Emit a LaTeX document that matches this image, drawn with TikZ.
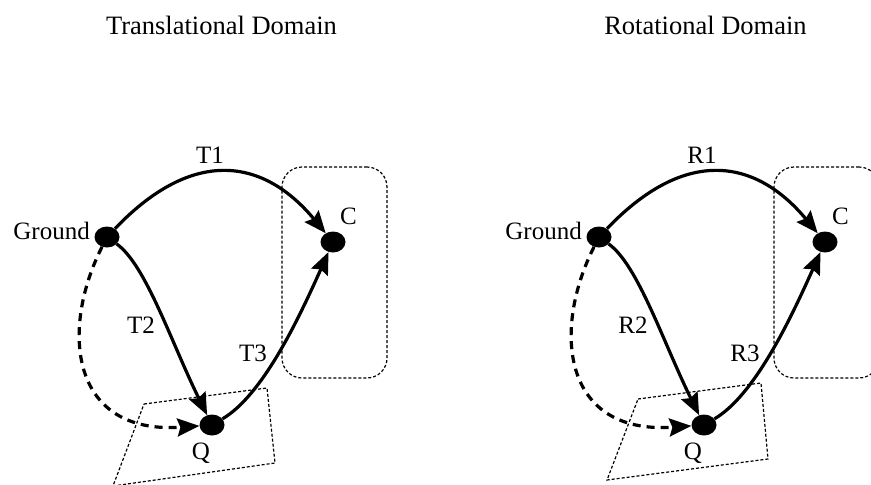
\documentclass[tikz,border=0pt]{standalone}
\usepackage{fontspec}
\setmainfont{Liberation Serif}
\usetikzlibrary{shapes.geometric, arrows.meta}
\tikzstyle{state_dot} = [ellipse, fill=black, minimum width=25pt, minimum height=21pt, inner sep=0pt]
\tikzstyle{motion_arrow} = [line width=3.2pt, -{Stealth[length=22pt, width=18pt, inset=3pt]}]
\tikzstyle{guess_arrow} = [motion_arrow, dash pattern=on 8pt off 6pt]
\tikzstyle{zone_box} = [draw, line width=1.2pt, dash pattern=on 3pt off 2pt]
\tikzstyle{title} = [font=\fontsize{26.5}{30}\selectfont, anchor=base, inner sep=0pt]
\tikzstyle{label_text} = [font=\fontsize{25}{28}\selectfont, anchor=base, inner sep=0pt]

\begin{document}
\begin{tikzpicture}[x=1pt, y=-1pt]
\useasboundingbox (0,0) rectangle (871,485);

% Titles
\node[title] (ttitle) at (221.5,34) {Translational Domain};
\node[title] (rtitle) at (705.5,34) {Rotational Domain};

% Translational side: zones around C and Q
\node[zone_box, rounded corners=20pt, minimum width=105pt, minimum height=211pt] (tczone) at (334.5,272.5) {};
\draw[zone_box] (144,404) -- (267,388) -- (275,463) -- (113,486) -- cycle;

% states
\node[state_dot] (tg) at (107,237) {};
\node[state_dot] (tc) at (333,242) {};
\node[state_dot] (tq) at (212,425) {};

% moves between states
\draw[motion_arrow] (tg) .. controls (195,145) and (265,160) .. (tc);
\draw[motion_arrow] (tg) .. controls (146,265) and (171,342) .. (tq);
\draw[motion_arrow] (tq) .. controls (263,395) and (299,318) .. (tc);
\draw[guess_arrow] (tg) .. controls (60,330) and (70,435) .. (tq);

% labels
\node[label_text, anchor=base east] (tglbl) at (90,239) {Ground};
\node[label_text, anchor=base west] (tclbl) at (340,224) {C};
\node[label_text] (tqlbl) at (201,459) {Q};
\node[label_text] (t1lbl) at (210,163) {T1};
\node[label_text] (t2lbl) at (141,333) {T2};
\node[label_text] (t3lbl) at (253,361) {T3};

% Rotational side, same layout shifted right
\begin{scope}[xshift=492pt]
\node[zone_box, rounded corners=20pt, minimum width=105pt, minimum height=211pt] (rczone) at (334.5,272.5) {};
\draw[zone_box] (146,399) -- (269,383) -- (276,459) -- (115,480) -- cycle;

\node[state_dot] (rg) at (107,237) {};
\node[state_dot] (rc) at (333,242) {};
\node[state_dot] (rq) at (212,425) {};

\draw[motion_arrow] (rg) .. controls (195,145) and (265,160) .. (rc);
\draw[motion_arrow] (rg) .. controls (146,265) and (171,342) .. (rq);
\draw[motion_arrow] (rq) .. controls (263,395) and (299,318) .. (rc);
\draw[guess_arrow] (rg) .. controls (60,330) and (70,435) .. (rq);

\node[label_text, anchor=base east] (rglbl) at (90,239) {Ground};
\node[label_text, anchor=base west] (rclbl) at (340,224) {C};
\node[label_text] (rqlbl) at (201,459) {Q};
\node[label_text] (r1lbl) at (210,163) {R1};
\node[label_text] (r2lbl) at (141,333) {R2};
\node[label_text] (r3lbl) at (253,361) {R3};
\end{scope}

\end{tikzpicture}
\end{document}
